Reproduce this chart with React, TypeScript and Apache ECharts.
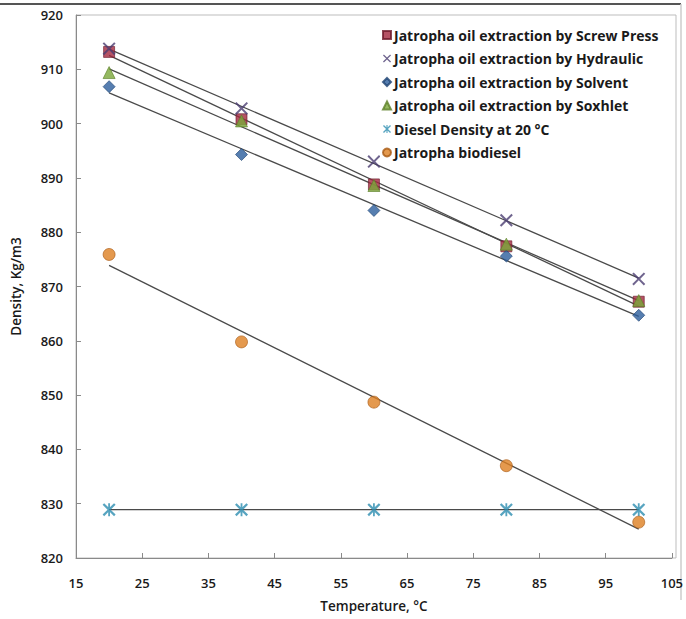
import React, { useEffect, useRef } from "react";
import * as echarts from "echarts";

const temps = [20, 40, 60, 80, 100];
const screwPress = [913.2, 900.8, 888.8, 877.4, 867.2];
const hydraulic = [913.8, 902.8, 893.0, 882.2, 871.4];
const solvent = [906.8, 894.3, 884.0, 875.6, 864.7];
const soxhlet = [909.4, 900.5, 888.6, 877.8, 867.4];
const diesel = [828.9, 828.9, 828.9, 828.9, 828.9];
const biodiesel = [875.9, 859.8, 848.7, 837.0, 826.6];

const seriesNames = [
  "Jatropha oil extraction by Screw Press",
  "Jatropha oil extraction by Hydraulic",
  "Jatropha oil extraction by Solvent",
  "Jatropha oil extraction by Soxhlet",
  "Diesel Density at 20 °C",
  "Jatropha biodiesel",
];

const xTicks = [15, 25, 35, 45, 55, 65, 75, 85, 95, 105];

const crossPath =
  "path://M0,1.1 L1.1,0 L5,3.9 L8.9,0 L10,1.1 L6.1,5 L10,8.9 L8.9,10 L5,6.1 L1.1,10 L0,8.9 L3.9,5 Z";
const asteriskPath =
  "path://M0,1.2 L1.2,0 L5,3.8 L8.8,0 L10,1.2 L6.2,5 L10,8.8 L8.8,10 L5,6.2 L1.2,10 L0,8.8 L3.8,5 Z M4.3,0 L5.7,0 L5.7,10 L4.3,10 Z";

function fit(xs: number[], ys: number[]) {
  const n = xs.length;
  const mx = xs.reduce((a, b) => a + b, 0) / n;
  const my = ys.reduce((a, b) => a + b, 0) / n;
  let sxy = 0;
  let sxx = 0;
  for (let i = 0; i < n; i++) {
    sxy += (xs[i] - mx) * (ys[i] - my);
    sxx += (xs[i] - mx) * (xs[i] - mx);
  }
  const b = sxy / sxx;
  const a = my - b * mx;
  const x0 = xs[0];
  const x1 = xs[n - 1];
  return [
    [x0, a + b * x0],
    [x1, a + b * x1],
  ];
}

const FONT = "Open Sans";

export default function App() {
  const ref = useRef<HTMLDivElement>(null);
  useEffect(() => {
    if (!ref.current) return;
    const chart = echarts.init(ref.current, undefined, { renderer: "svg" });
    const all = [screwPress, hydraulic, solvent, soxhlet, diesel, biodiesel];
    const styles = [
      { symbol: "rect", size: 11, color: "#A3283F", border: "#6E1A2A" },
      { symbol: crossPath, size: 13, color: "#4B3D72", border: "#4B3D72" },
      { symbol: "diamond", size: 12, color: "#2C5E9C", border: "#1E4272" },
      { symbol: "triangle", size: 12, color: "#7BA83A", border: "#5C8028" },
      { symbol: asteriskPath, size: 13, color: "#2D8DB0", border: "#1D6A88" },
      { symbol: "circle", size: 12, color: "#DD7F22", border: "#A85A14" },
    ];
    const scatter = all.map((vals, i) => ({
      name: seriesNames[i],
      type: "scatter",
      symbol: styles[i].symbol,
      symbolSize: styles[i].size,
      itemStyle: {
        color: styles[i].color,
        borderColor: styles[i].border,
        borderWidth: i === 1 || i === 4 ? 0 : 0.8,
      },
      z: 3,
      data: temps.map((t, j) => [t, vals[j]]),
    }));
    const trends = all.map((vals, i) => ({
      name: "trend" + i,
      type: "line",
      symbol: "none",
      silent: true,
      lineStyle: { color: "#4a4a4a", width: 1.3 },
      z: 2,
      data: fit(temps, vals),
    }));
    chart.setOption({
      animation: false,
      backgroundColor: "#ffffff",
      textStyle: { fontFamily: FONT },
      grid: { left: 76, top: 15, right: 10, bottom: 61, containLabel: false },
      legend: {
        data: seriesNames,
        orient: "vertical",
        left: 380,
        top: 25,
        itemGap: 7.5,
        itemWidth: 8,
        itemHeight: 8,
        backgroundColor: "#ffffff",
        padding: [2, 2],
        textStyle: {
          fontFamily: FONT,
          fontSize: 14,
          fontWeight: "bold",
          color: "#1a1a1a",
          padding: [0, 0, 0, -2],
          lineHeight: 16,
        },
      },
      xAxis: {
        type: "value",
        min: 15,
        max: 105,
        interval: 10,
        name: "Temperature, °C",
        nameLocation: "middle",
        nameGap: 41,
        nameTextStyle: { fontFamily: FONT, fontSize: 13.5, fontWeight: 600, color: "#1a1a1a" },
        axisLine: { show: true, lineStyle: { color: "#8a8a8a", width: 1 } },
        axisTick: { show: true, inside: true, length: 5, lineStyle: { color: "#8a8a8a" } },
        axisLabel: {
          fontFamily: FONT,
          fontSize: 13,
          fontWeight: 600,
          color: "#1a1a1a",
          margin: 18,
          formatter: (v: number) => (xTicks.includes(v) ? String(v) : ""),
        },
        splitLine: { show: false },
      },
      yAxis: {
        type: "value",
        min: 820,
        max: 920,
        interval: 10,
        name: "Density, Kg/m3",
        nameLocation: "middle",
        nameGap: 53,
        nameTextStyle: { fontFamily: FONT, fontSize: 13.5, fontWeight: 600, color: "#1a1a1a" },
        axisLine: { show: true, lineStyle: { color: "#8a8a8a", width: 1 } },
        axisTick: { show: true, inside: true, length: 5, lineStyle: { color: "#8a8a8a" } },
        axisLabel: { fontFamily: FONT, fontSize: 13, fontWeight: 600, color: "#1a1a1a", margin: 13 },
        splitLine: { show: false },
      },
      graphic: [
        {
          type: "rect",
          shape: { x: 76, y: 15, width: 600, height: 543 },
          style: { fill: "none", stroke: "#bdbdbd", lineWidth: 1 },
          silent: true,
          z: 0,
        },
        {
          type: "line",
          shape: { x1: 0, y1: 4, x2: 681, y2: 4 },
          style: { stroke: "#555555", lineWidth: 2 },
          silent: true,
        },
        {
          type: "line",
          shape: { x1: 681, y1: 4, x2: 681, y2: 600 },
          style: { stroke: "#cccccc", lineWidth: 1.5 },
          silent: true,
        },
      ],
      series: [...trends, ...scatter],
    });
    return () => chart.dispose();
  }, []);
  return (
    <div
      ref={ref}
      style={{ width: 686, height: 619, position: "absolute", left: 0, top: 0 }}
    />
  );
}
